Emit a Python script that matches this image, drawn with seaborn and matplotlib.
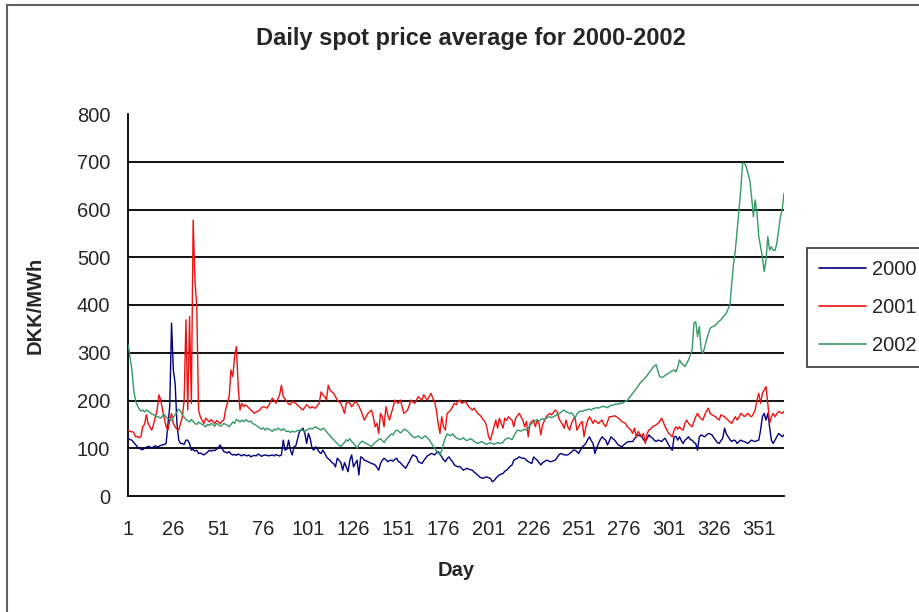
import numpy as np
import pandas as pd
import seaborn as sns
import matplotlib.pyplot as plt
from matplotlib.lines import Line2D

# daily spot prices, DKK/MWh
price_2000 = [
    121, 118, 117, 112, 108, 103, 100, 98, 97, 100,
    102, 104, 103, 100, 103, 105, 103, 104, 106, 107,
    108, 110, 150, 187, 362, 264, 236, 152, 117, 110,
    110, 108, 117, 117, 110, 96, 98, 94, 96, 89,
    90, 88, 86, 89, 92, 96, 94, 96, 95, 98,
    101, 107, 100, 93, 92, 90, 93, 88, 86, 87,
    85, 88, 86, 84, 87, 85, 84, 86, 82, 84,
    85, 84, 88, 86, 83, 85, 86, 85, 84, 85,
    86, 84, 87, 85, 84, 86, 117, 96, 98, 117,
    96, 86, 103, 105, 120, 135, 138, 142, 131, 110,
    131, 120, 100, 96, 103, 98, 92, 89, 96, 90,
    82, 78, 75, 70, 68, 61, 79, 75, 70, 54,
    70, 61, 51, 75, 86, 61, 68, 75, 44, 82,
    80, 75, 74, 72, 70, 68, 67, 65, 60, 54,
    68, 75, 79, 76, 72, 74, 75, 73, 77, 79,
    72, 70, 65, 62, 58, 65, 72, 80, 86, 84,
    82, 72, 70, 68, 74, 79, 84, 86, 89, 88,
    86, 90, 93, 88, 82, 76, 72, 78, 82, 76,
    72, 65, 63, 61, 62, 58, 54, 56, 58, 56,
    55, 54, 50, 47, 44, 40, 38, 37, 39, 40,
    38, 37, 30, 32, 37, 41, 44, 46, 47, 52,
    54, 58, 62, 65, 75, 77, 79, 82, 80, 79,
    79, 75, 72, 70, 68, 82, 78, 75, 70, 65,
    70, 72, 75, 74, 72, 72, 74, 75, 80, 86,
    89, 88, 86, 86, 86, 89, 92, 96, 96, 93,
    89, 96, 103, 106, 110, 118, 124, 116, 110, 89,
    100, 110, 118, 124, 120, 117, 107, 115, 124, 120,
    117, 112, 107, 105, 103, 107, 110, 113, 114, 114,
    114, 120, 124, 128, 126, 124, 118, 114, 120, 128,
    124, 121, 117, 114, 117, 116, 114, 118, 121, 114,
    107, 100, 96, 124, 125, 117, 124, 116, 110, 117,
    120, 124, 118, 117, 112, 110, 96, 124, 128, 126,
    124, 128, 131, 130, 128, 122, 117, 112, 110, 116,
    121, 142, 130, 124, 118, 114, 117, 116, 110, 114,
    117, 115, 114, 112, 110, 114, 117, 115, 114, 116,
    117, 138, 166, 173, 159, 173, 145, 117, 110, 117,
    124, 131, 128, 124, 128,
]

price_2001 = [
    138, 135, 135, 133, 124, 125, 122, 124, 145, 150,
    170, 152, 145, 138, 150, 165, 180, 212, 201, 180,
    163, 145, 138, 159, 173, 152, 145, 140, 138, 152,
    166, 200, 369, 180, 376, 194, 578, 452, 397, 180,
    166, 158, 152, 163, 159, 155, 160, 156, 152, 158,
    155, 152, 157, 159, 180, 195, 208, 264, 250, 292,
    313, 229, 180, 194, 187, 191, 188, 184, 180, 177,
    173, 176, 178, 180, 185, 187, 186, 184, 190, 198,
    205, 200, 194, 203, 212, 232, 208, 203, 198, 193,
    191, 198, 196, 194, 190, 187, 183, 180, 186, 191,
    188, 184, 187, 185, 184, 190, 194, 218, 212, 208,
    201, 232, 222, 218, 215, 208, 201, 197, 194, 185,
    173, 194, 198, 194, 187, 192, 198, 194, 188, 180,
    170, 159, 166, 173, 176, 180, 166, 145, 152, 131,
    173, 166, 145, 187, 170, 159, 173, 186, 201, 197,
    194, 201, 187, 173, 176, 180, 190, 201, 197, 194,
    201, 208, 204, 201, 212, 206, 201, 208, 215, 205,
    198, 180, 152, 131, 166, 145, 138, 173, 176, 180,
    187, 194, 191, 198, 201, 194, 196, 198, 193, 187,
    183, 180, 184, 178, 173, 170, 166, 160, 156, 145,
    124, 117, 131, 145, 159, 142, 163, 152, 142, 163,
    158, 166, 162, 159, 145, 163, 168, 173, 166, 159,
    145, 156, 124, 152, 156, 159, 145, 159, 152, 128,
    149, 158, 166, 170, 173, 170, 175, 180, 177, 163,
    156, 150, 142, 159, 145, 138, 152, 160, 166, 138,
    145, 152, 156, 124, 145, 158, 166, 160, 152, 159,
    155, 152, 156, 159, 150, 145, 155, 166, 166, 167,
    168, 166, 163, 160, 156, 154, 152, 145, 142, 138,
    131, 142, 124, 135, 130, 124, 131, 110, 131, 138,
    140, 145, 147, 149, 152, 156, 163, 155, 145, 138,
    131, 128, 124, 138, 145, 140, 145, 140, 138, 152,
    159, 152, 148, 145, 156, 166, 173, 166, 162, 159,
    170, 178, 184, 173, 170, 168, 166, 162, 159, 170,
    168, 166, 162, 159, 155, 152, 160, 166, 159, 165,
    173, 170, 166, 170, 173, 168, 166, 172, 180, 201,
    215, 194, 215, 222, 229, 194, 152, 166, 173, 166,
    172, 177, 175, 173, 177,
]

price_2002 = [
    316, 290, 264, 222, 200, 190, 182, 178, 180, 176,
    180, 178, 175, 172, 170, 168, 166, 165, 163, 168,
    170, 166, 162, 160, 158, 165, 170, 176, 182, 178,
    170, 165, 160, 158, 155, 160, 156, 152, 150, 155,
    152, 150, 148, 145, 150, 148, 152, 150, 146, 152,
    150, 146, 148, 152, 150, 148, 145, 150, 155, 152,
    160, 158, 155, 159, 156, 160, 158, 155, 157, 152,
    150, 148, 145, 142, 140, 143, 138, 142, 140, 138,
    135, 140, 138, 142, 140, 137, 141, 138, 135, 136,
    133, 136, 134, 135, 138, 136, 140, 137, 134, 138,
    140, 142, 140, 143, 145, 142, 140, 138, 142, 140,
    135, 130, 126, 122, 118, 114, 110, 106, 104, 108,
    112, 118, 115, 120, 114, 110, 106, 100, 108, 112,
    115, 112, 110, 108, 106, 104, 108, 112, 115, 118,
    120, 116, 112, 118, 122, 126, 130, 128, 135, 138,
    136, 132, 135, 140, 138, 136, 132, 128, 124, 122,
    124, 126, 122, 120, 124, 126, 122, 118, 112, 106,
    100, 95, 90, 86, 96, 110, 122, 130, 128, 126,
    130, 126, 122, 120, 118, 120, 122, 118, 116, 118,
    120, 118, 114, 112, 110, 112, 114, 112, 110, 108,
    110, 112, 110, 108, 110, 112, 110, 111, 112, 118,
    120, 122, 120, 118, 125, 132, 138, 137, 136, 138,
    140, 138, 142, 148, 152, 155, 158, 160, 157, 160,
    162, 160, 163, 165, 166, 164, 166, 168, 170, 172,
    175, 178, 180, 176, 175, 173, 174, 170, 163, 172,
    176, 178, 177, 179, 180, 181, 182, 180, 183, 184,
    185, 184, 186, 187, 188, 186, 185, 188, 190, 190,
    192, 193, 192, 195, 194, 196, 198, 200, 205, 210,
    215, 220, 225, 230, 236, 240, 243, 248, 252, 258,
    262, 268, 272, 275, 262, 250, 248, 250, 252, 255,
    257, 260, 262, 264, 260, 270, 285, 278, 275, 271,
    278, 285, 295, 306, 362, 365, 334, 355, 306, 299,
    312, 327, 340, 351, 354, 356, 358, 362, 366, 369,
    374, 378, 383, 392, 400, 445, 487, 515, 557, 599,
    641, 697, 697, 690, 676, 662, 627, 585, 620, 592,
    543, 522, 501, 470, 494, 543, 515, 522, 515, 514,
    529, 557, 585, 599, 634,
]

years = ["2000", "2001", "2002"]
colors = {"2000": "#000080", "2001": "#EE1111", "2002": "#339966"}
days = np.arange(1, 366)
day_labels = np.arange(1, 366, 25)
day_marks = np.arange(1, 366, 20)
y_ticks = np.arange(0, 801, 100)

frames = []
for year, vals in zip(years, [price_2000, price_2001, price_2002]):
    frames.append(pd.DataFrame({"Day": days, "Price": vals, "Year": year}))
df = pd.concat(frames, ignore_index=True)

sns.set_style("white")
plt.rcParams["font.family"] = ["Liberation Sans", "DejaVu Sans"]

fig = plt.figure(figsize=(9.2, 6.12), dpi=100)
ax = fig.add_axes([128.3 / 920, 116 / 612, 655.7 / 920, 382 / 612])

# horizontal gridlines (none at the top value)
ax.hlines(y_ticks[1:-1], 1, 365, colors="black", linewidth=1.3, zorder=1)

sns.lineplot(data=df, x="Day", y="Price", hue="Year", palette=colors,
             estimator=None, sort=False, linewidth=1.0, ax=ax, zorder=3)

ax.set_xlim(1, 365)
ax.set_ylim(0, 800)
ax.set_xlabel("")
ax.set_ylabel("")

for side in ["top", "right"]:
    ax.spines[side].set_visible(False)
for side in ["left", "bottom"]:
    ax.spines[side].set_color("black")
    ax.spines[side].set_linewidth(1.3)

ax.set_yticks(y_ticks)
ax.tick_params(axis="y", direction="out", length=5, width=1.2, color="black",
               labelsize=14.5, pad=8)
ax.set_xticks(day_labels)
ax.set_xticks(day_marks, minor=True)
ax.tick_params(axis="x", which="major", length=0, labelsize=14.5, pad=17)
ax.tick_params(axis="x", which="minor", direction="out", length=5, width=1.2,
               color="black")

leg = ax.legend(loc="upper left", bbox_to_anchor=(807 / 920, 1 - 248 / 612),
                bbox_transform=fig.transFigure, borderaxespad=0, frameon=True,
                fancybox=False, fontsize=14.5, handlelength=2.35,
                handletextpad=0.3, labelspacing=0.95, borderpad=0.6)
leg.get_frame().set_edgecolor("black")
leg.get_frame().set_linewidth(1.2)
for line in leg.get_lines():
    line.set_linewidth(1.2)

fig.text(471 / 920, 1 - 38 / 612, "Daily spot price average for 2000-2002",
         ha="center", va="center", fontsize=17, fontweight="bold")
fig.text(456 / 920, 1 - 571 / 612, "Day", ha="center", va="center",
         fontsize=14.5, fontweight="bold")
fig.text(35 / 920, 1 - 305 / 612, "DKK/MWh", ha="center", va="center",
         rotation=90, fontsize=14.5, fontweight="bold")

# outer chart border (left and top edges are visible in the crop)
fig.add_artist(Line2D([7 / 920, 7 / 920], [0, 1 - 5 / 612], color="#606060", linewidth=1.5))
fig.add_artist(Line2D([7 / 920, 1], [1 - 5 / 612, 1 - 5 / 612], color="#606060", linewidth=1.5))

fig.savefig("out.png", dpi=100)
